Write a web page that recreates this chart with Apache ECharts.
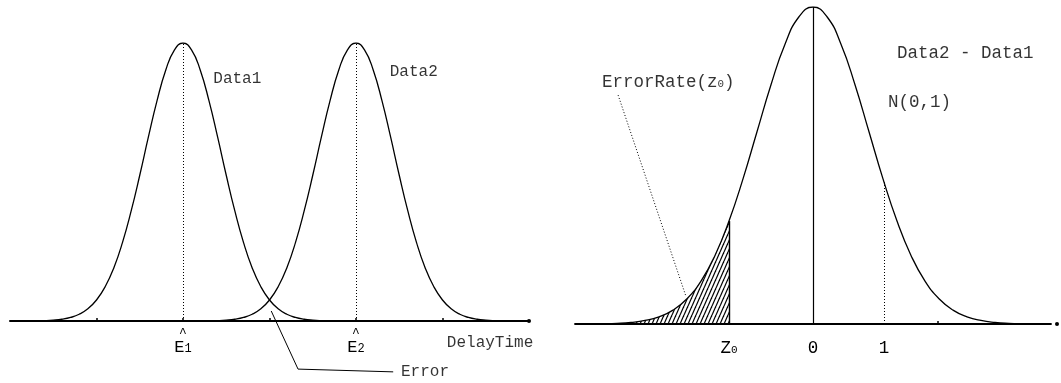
<!DOCTYPE html>
<html>
<head>
<meta charset="utf-8">
<script src="https://cdn.jsdelivr.net/npm/echarts@6/dist/echarts.min.js"></script>
<style>
  html, body { margin: 0; padding: 0; background: #fff; }
  #chart { width: 1061px; height: 383px; }
</style>
</head>
<body>
<div id="chart"></div>
<script>
// ---- Left panel: delay-time densities of the two data sets ----
const leftX = [
  0.0, 0.1, 0.2, 0.3, 0.4, 0.5, 0.6, 0.7, 0.8, 0.9,
  1.0, 1.1, 1.2, 1.3, 1.4, 1.5, 1.6, 1.7, 1.8, 1.9,
  2.0, 2.1, 2.2, 2.3, 2.4, 2.5, 2.6, 2.7, 2.8, 2.9,
  3.0, 3.1, 3.2, 3.3, 3.4, 3.5, 3.6, 3.7, 3.8, 3.9,
  4.0, 4.1, 4.2, 4.3, 4.4, 4.5, 4.6, 4.7, 4.8, 4.9,
  5.0, 5.1, 5.2, 5.3, 5.4, 5.5, 5.6, 5.7, 5.8, 5.9,
  6.0
];
const data1 = [
  0, 0.0001, 0.0002, 0.0006, 0.0013, 0.003, 0.0063, 0.0127, 0.0243, 0.0439,
  0.0756, 0.1234, 0.191, 0.2821, 0.395, 0.5243, 0.662, 0.7926, 0.902, 0.9745,
  1, 0.9745, 0.902, 0.7926, 0.662, 0.5243, 0.395, 0.2821, 0.191, 0.1234,
  0.0756, 0.0439, 0.0243, 0.0127, 0.0063, 0.003, 0.0013, 0.0006, 0.0002, 0.0001,
  0, 0, 0, 0, 0, 0, 0, 0, 0, 0,
  0, 0, 0, 0, 0, 0, 0, 0, 0, 0,
  0
];
const data2 = [
  0, 0, 0, 0, 0, 0, 0, 0, 0, 0,
  0, 0, 0, 0, 0, 0, 0, 0, 0, 0,
  0, 0.0001, 0.0002, 0.0006, 0.0013, 0.003, 0.0063, 0.0127, 0.0243, 0.0439,
  0.0756, 0.1234, 0.191, 0.2821, 0.395, 0.5243, 0.662, 0.7926, 0.902, 0.9745,
  1, 0.9745, 0.902, 0.7926, 0.662, 0.5243, 0.395, 0.2821, 0.191, 0.1234,
  0.0756, 0.0439, 0.0243, 0.0127, 0.0063, 0.003, 0.0013, 0.0006, 0.0002, 0.0001,
  0
];
const peakE1 = 2;
const peakE2 = 4;
const leftTicks = [1, 2, 3, 4, 5];
const leftLabelPos = [2, 4];
const leftLabelSub = ['1', '2'];
// text notes: [x, y, text] in data units (text anchored by its left edge)
const leftNotes = [
  [2.35, 0.87, 'Data1'],
  [4.39, 0.895, 'Data2'],
  [5.05, -0.079, 'DelayTime'],
  [4.52, -0.183, 'Error']
];
const errorPointer = [[3.02, 0.036], [3.33, -0.173], [4.43, -0.183]];

// ---- Right panel: distribution of Data2 - Data1 ----
const rightX = [
  -4.25, -4, -3.75, -3.5, -3.25, -3, -2.75, -2.5, -2.25, -2, -1.75, -1.5,
  -1.25, -1, -0.75, -0.5, -0.25, 0, 0.25, 0.5, 0.75, 1, 1.25,
  1.5, 1.75, 2, 2.25, 2.5, 2.75, 3, 3.25, 3.5, 3.75, 4, 4.25
];
const diffDensity = [
  0.0001, 0.0003, 0.0009, 0.0022, 0.0051, 0.0111, 0.0228, 0.0439, 0.0796, 0.1353, 0.2163, 0.3247,
  0.4578, 0.6065, 0.7548, 0.8825, 0.9692, 1, 0.9692, 0.8825, 0.7548, 0.6065, 0.4578,
  0.3247, 0.2163, 0.1353, 0.0796, 0.0439, 0.0228, 0.0111, 0.0051, 0.0022, 0.0009, 0.0003, 0.0001
];
const z0 = -1.5;
const z0Top = 0.3247;
const unitPos = 1.27;
const unitTop = 0.447;
const rightTicks = [2.23];
const rightLabelPos = [-1.5, 0, 1.27];
const rightLabelText = ['{m|Z}{s|0}', '{m|0}', '{m|1}'];
const rightNotes = [
  [1.5, 0.855, 'Data2 - Data1'],
  [1.34, 0.70, 'N(0,1)'],
  [-3.77, 0.763, 'ErrorRate(z{s|0})']
];
const rateLeader = [[-3.48, 0.722], [-2.27, 0.088]];

const FONT = 'Liberation Mono, Courier New, monospace';
const INK = '#000';

function zip(xs, ys) { return xs.map((x, i) => [x, ys[i]]); }

// diagonal hatching tile for the error-rate region
function hatchTile() {
  const w = 4, h = 9;
  const c = document.createElement('canvas');
  c.width = w; c.height = h;
  const g = c.getContext('2d');
  g.strokeStyle = '#000';
  g.lineWidth = 1.2;
  [-w, 0, w].forEach(off => {
    g.beginPath();
    g.moveTo(off, h);
    g.lineTo(off + w, 0);
    g.stroke();
  });
  return c;
}

function axisCommon(extra) {
  return Object.assign({
    type: 'value',
    splitLine: { show: false },
    axisLine: {
      show: true,
      onZero: false,
      lineStyle: { color: '#000', width: 2 },
      symbol: ['none', 'circle'],
      symbolSize: [4, 4]
    }
  }, extra);
}

function notesSeries(xi, notes, size) {
  return {
    type: 'scatter',
    xAxisIndex: xi, yAxisIndex: xi,
    clip: false, silent: true,
    symbolSize: 0,
    data: notes,
    label: {
      show: true,
      position: 'right',
      distance: 0,
      formatter: p => p.value[2],
      fontFamily: FONT, fontSize: size, color: INK,
      rich: { s: { fontFamily: FONT, fontSize: size * 0.62, color: INK, padding: [4, 0, 0, 0] } }
    }
  };
}

const chart = echarts.init(document.getElementById('chart'), null, { renderer: 'canvas' });

chart.setOption({
  animation: false,
  backgroundColor: '#fff',
  grid: [
    { left: 10, top: 43, width: 519, height: 278 },
    { left: 575, top: 7, width: 476, height: 317 }
  ],
  xAxis: [
    axisCommon({
      gridIndex: 0, min: 0, max: 6,
      axisTick: { show: true, inside: true, length: 3, customValues: leftTicks,
                  lineStyle: { color: '#000', width: 1.5 } },
      axisLabel: {
        show: true, margin: 7, customValues: leftLabelPos,
        formatter: v => {
          const i = leftLabelPos.findIndex(p => Math.abs(p - v) < 1e-6);
          return '{h|^}\n{e|E}{s|' + leftLabelSub[i] + '}';
        },
        rich: {
          h: { fontFamily: FONT, fontSize: 13, lineHeight: 11, color: INK, align: 'center' },
          e: { fontFamily: FONT, fontSize: 17, lineHeight: 17, color: INK },
          s: { fontFamily: FONT, fontSize: 12, lineHeight: 17, color: INK, padding: [3, 0, 0, 0] }
        }
      }
    }),
    axisCommon({
      gridIndex: 1, min: -4.25, max: 4.25,
      axisLine: {
        show: true, onZero: false,
        lineStyle: { color: '#000', width: 1.8 },
        symbol: ['none', 'circle'], symbolSize: [4, 4], symbolOffset: [0, 6]
      },
      axisTick: { show: true, inside: true, length: 3, customValues: rightTicks,
                  lineStyle: { color: '#000', width: 1.5 } },
      axisLabel: {
        show: true, margin: 15, customValues: rightLabelPos,
        formatter: v => rightLabelText[rightLabelPos.findIndex(p => Math.abs(p - v) < 1e-6)],
        rich: {
          m: { fontFamily: FONT, fontSize: 17.5, color: INK },
          s: { fontFamily: FONT, fontSize: 11, color: INK, padding: [5, 0, 0, 0] }
        }
      }
    })
  ],
  yAxis: [
    { type: 'value', gridIndex: 0, min: 0, max: 1, show: false },
    { type: 'value', gridIndex: 1, min: 0, max: 1, show: false }
  ],
  series: [
    {
      name: 'Data1', type: 'line', xAxisIndex: 0, yAxisIndex: 0,
      data: zip(leftX, data1), smooth: true, symbol: 'none', silent: true,
      lineStyle: { color: '#000', width: 1.3 },
      markLine: {
        silent: true, symbol: 'none', label: { show: false },
        lineStyle: { color: '#000', width: 1, type: [1, 2] },
        data: [[{ coord: [peakE1, 0] }, { coord: [peakE1, 1] }]]
      }
    },
    {
      name: 'Data2', type: 'line', xAxisIndex: 0, yAxisIndex: 0,
      data: zip(leftX, data2), smooth: true, symbol: 'none', silent: true,
      lineStyle: { color: '#000', width: 1.3 },
      markLine: {
        silent: true, symbol: 'none', label: { show: false },
        lineStyle: { color: '#000', width: 1, type: [1, 2] },
        data: [[{ coord: [peakE2, 0] }, { coord: [peakE2, 1] }]]
      }
    },
    {
      type: 'line', xAxisIndex: 0, yAxisIndex: 0, clip: false, silent: true,
      data: errorPointer, symbol: 'none',
      lineStyle: { color: '#000', width: 1 }
    },
    notesSeries(0, leftNotes, 16),

    {
      // hatched error-rate region left of z0
      type: 'line', xAxisIndex: 1, yAxisIndex: 1, silent: true,
      data: zip(rightX, diffDensity).filter(d => d[0] <= z0 + 1e-9),
      smooth: true, symbol: 'none',
      lineStyle: { width: 0 },
      areaStyle: { color: { image: hatchTile(), repeat: 'repeat' }, opacity: 1 },
      z: 1
    },
    {
      name: 'Data2 - Data1', type: 'line', xAxisIndex: 1, yAxisIndex: 1,
      data: zip(rightX, diffDensity), smooth: true, symbol: 'none', silent: true,
      lineStyle: { color: '#000', width: 1.3 },
      z: 3,
      markLine: {
        silent: true, symbol: 'none', label: { show: false },
        data: [
          [{ coord: [0, 0], lineStyle: { color: '#000', width: 1.2, type: 'solid' } }, { coord: [0, 1] }],
          [{ coord: [z0, 0], lineStyle: { color: '#000', width: 1.4, type: 'solid' } }, { coord: [z0, z0Top] }],
          [{ coord: [unitPos, 0], lineStyle: { color: '#000', width: 1, type: [1, 2] } }, { coord: [unitPos, unitTop] }]
        ]
      }
    },
    {
      type: 'line', xAxisIndex: 1, yAxisIndex: 1, clip: false, silent: true,
      data: rateLeader, symbol: 'none',
      lineStyle: { color: '#000', width: 1, type: [1, 2] }
    },
    notesSeries(1, rightNotes, 17.5)
  ]
});
</script>
</body>
</html>
